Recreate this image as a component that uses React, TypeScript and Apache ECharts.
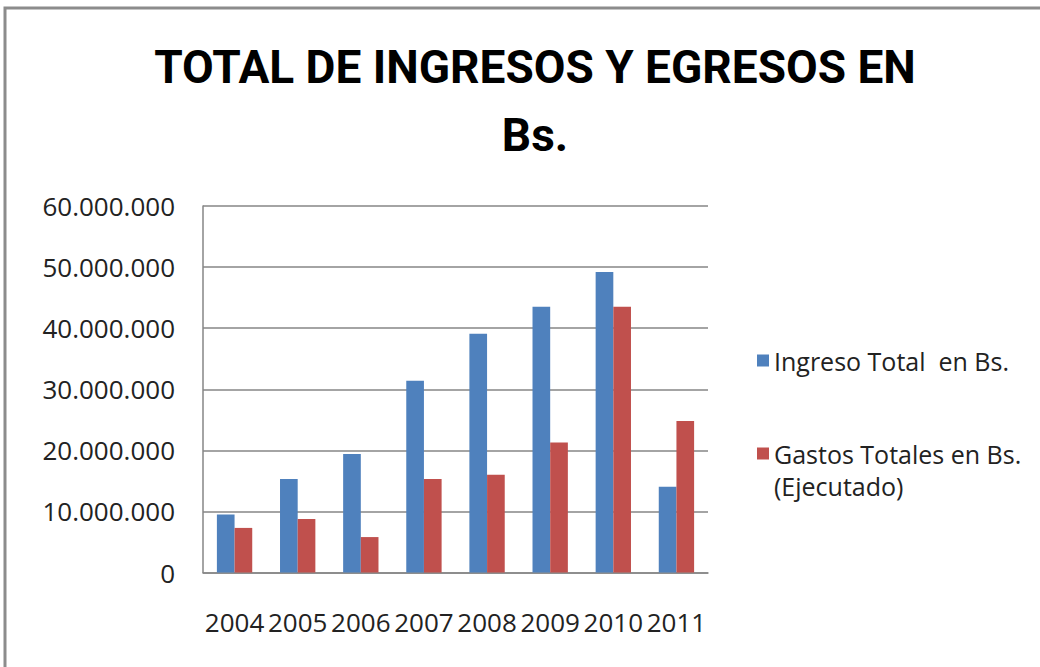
import React, { useEffect, useRef } from "react";
import * as echarts from "echarts";

const years = ["2004", "2005", "2006", "2007", "2008", "2009", "2010", "2011"];
const ingresoTotal = [9500000, 15300000, 19400000, 31400000, 39100000, 43500000, 49200000, 14050000];
const gastosTotales = [7300000, 8750000, 5800000, 15300000, 16000000, 21300000, 43500000, 24800000];
const seriesNames = ["Ingreso Total  en Bs.", "Gastos Totales en Bs. (Ejecutado)"];
const titleText = "TOTAL DE INGRESOS Y EGRESOS EN\nBs.";

const fmt = (v: number) => String(v).replace(/\B(?=(\d{3})+(?!\d))/g, ".");

export default function App() {
  const ref = useRef<HTMLDivElement>(null);
  useEffect(() => {
    if (!ref.current) return;
    const chart = echarts.init(ref.current, undefined, { renderer: "svg" });
    const font = "'Open Sans', 'Noto Sans', sans-serif";
    chart.setOption({
      animation: false,
      backgroundColor: "#ffffff",
      title: {
        text: titleText,
        left: 530,
        textAlign: "center",
        top: 28,
        textStyle: {
          fontFamily: "Roboto, 'Liberation Sans', sans-serif",
          fontWeight: "bold",
          fontSize: 46,
          lineHeight: 68,
          color: "#000000",
        },
      },
      legend: [
        {
          data: [seriesNames[0]],
          orient: "vertical",
          left: 752,
          top: 343,
          icon: "rect",
          itemWidth: 12,
          itemHeight: 12,
          itemGap: 10,
          textStyle: { fontFamily: font, fontSize: 25, color: "#222" },
        },
        {
          data: [seriesNames[1]],
          orient: "vertical",
          left: 752,
          top: 436,
          icon: "rect",
          itemWidth: 12,
          itemHeight: 12,
          formatter: (n: string) => n.replace(" (Ejecutado)", ""),
          textStyle: { fontFamily: font, fontSize: 25, color: "#222" },
        },
      ],
      graphic: [
        {
          type: "rect",
          shape: { x: 5, y: 8, width: 1100, height: 700 },
          style: { fill: "none", stroke: "#8c8c8c", lineWidth: 3 },
          silent: true,
        },
        {
          type: "text",
          left: 774,
          top: 473,
          style: { text: "(Ejecutado)", font: "25px " + font, fill: "#222" },
        },
      ],
      grid: { left: 203, right: 332, top: 206, bottom: 94.5, containLabel: false },
      xAxis: {
        type: "category",
        data: years,
        axisLine: { lineStyle: { color: "#868686", width: 1.5 } },
        axisTick: { show: false },
        axisLabel: { fontFamily: font, fontSize: 26, color: "#222", margin: 36, interval: 0 },
      },
      yAxis: {
        type: "value",
        min: 0,
        max: 60000000,
        interval: 10000000,
        axisLine: { show: true, lineStyle: { color: "#868686", width: 1.5 } },
        axisTick: { show: false },
        splitLine: { lineStyle: { color: "#868686", width: 1.5 } },
        axisLabel: {
          fontFamily: font,
          fontSize: 26,
          color: "#222",
          margin: 28,
          formatter: (v: number) => fmt(v),
        },
      },
      series: [
        {
          name: seriesNames[0],
          type: "bar",
          data: ingresoTotal,
          itemStyle: { color: "#4F81BD" },
          barGap: "0%",
          barCategoryGap: "44%",
        },
        {
          name: seriesNames[1],
          type: "bar",
          data: gastosTotales,
          itemStyle: { color: "#C0504D" },
          barGap: "0%",
          barCategoryGap: "44%",
        },
      ],
    });
    return () => chart.dispose();
  }, []);
  return (
    <div
      ref={ref}
      style={{ position: "absolute", left: 0, top: 0, width: 1040, height: 667 }}
    />
  );
}
